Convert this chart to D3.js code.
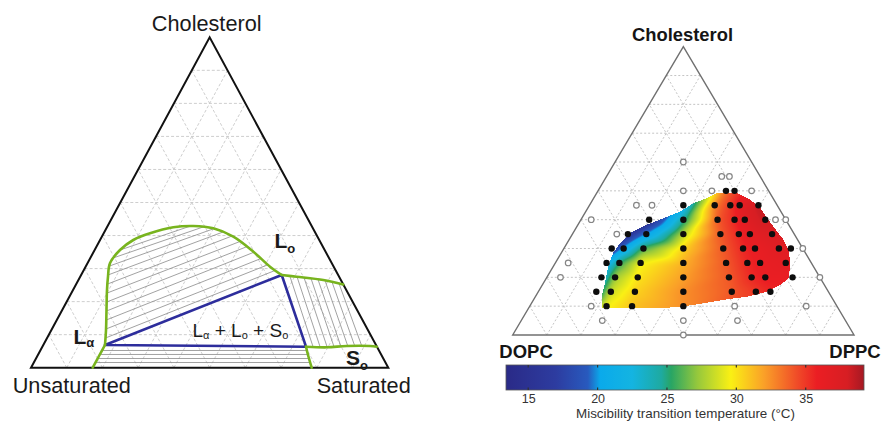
<!DOCTYPE html>
<html>
<head>
<meta charset="utf-8">
<script src="https://cdn.jsdelivr.net/npm/d3@7"></script>
<style>
  html, body { margin: 0; padding: 0; background: #fff; }
  svg { display: block; font-family: "Liberation Sans", Arial, sans-serif; }
</style>
</head>
<body>
<svg id="chart" width="883" height="427"></svg>
<script>
// ---------------- data ----------------
// Grid levels (mole fraction) shared by both ternary diagrams
const gridLevels = [0.1, 0.2, 0.3, 0.4, 0.5, 0.6, 0.7, 0.8, 0.9];

// Left diagram: generic phase diagram, points are [cholesterol, saturated lipid]
const laBranch = [[0, 0.1727], [0.0354, 0.1726], [0.0687, 0.1727]];
const coexistenceDome = [
  [0.0687, 0.1727], [0.1141, 0.1529], [0.1746, 0.1240], [0.2352, 0.0951],
  [0.2754, 0.0778], [0.3160, 0.0630], [0.3562, 0.0710], [0.3865, 0.0931],
  [0.4068, 0.1297], [0.4249, 0.1859], [0.4289, 0.2398], [0.4219, 0.2993],
  [0.3965, 0.3680], [0.3511, 0.4467], [0.3057, 0.5161], [0.2806, 0.5614]
];
const loSoUpper = [[0.2806, 0.5614], [0.2754, 0.6059], [0.2654, 0.6854], [0.2518, 0.7482]];
const soUpper = [[0.0636, 0.7379], [0.0617, 0.7967], [0.0657, 0.8507], [0.0657, 0.9159], [0.0636, 0.9364]];
const soLeft = [[0.0636, 0.7379], [0.0384, 0.7561], [0, 0.7856]];
const threePhase = [[0.0687, 0.1727], [0.2806, 0.5614], [0.0636, 0.7379]];

// Tie lines: [[chol, sat], [chol, sat]]
const tieLaLo = [
  [[0.0899, 0.1636], [0.2942, 0.5358]], [[0.1171, 0.1514], [0.3117, 0.5075]],
  [[0.1444, 0.1385], [0.3305, 0.4785]], [[0.1716, 0.1255], [0.3496, 0.4493]],
  [[0.1989, 0.1127], [0.3665, 0.4213]], [[0.2261, 0.1003], [0.3820, 0.3939]],
  [[0.2533, 0.0878], [0.3986, 0.3633]], [[0.2806, 0.0752], [0.4107, 0.3320]],
  [[0.3078, 0.0658], [0.4210, 0.3017]], [[0.3320, 0.0635], [0.4258, 0.2685]],
  [[0.3562, 0.0710], [0.4283, 0.2309]]
];
const tieLoSo = [
  [[0.2760, 0.5869], [0.0639, 0.7573]], [[0.2754, 0.6068], [0.0639, 0.7769]],
  [[0.2727, 0.6277], [0.0639, 0.7965]], [[0.2700, 0.6487], [0.0639, 0.8160]],
  [[0.2672, 0.6696], [0.0639, 0.8356]], [[0.2642, 0.6907], [0.0639, 0.8552]],
  [[0.2597, 0.7125], [0.0639, 0.8748]], [[0.2548, 0.7346], [0.0639, 0.8944]]
];
const tieLaSo = [
  [[0.0521, 0.1713], [0.0521, 0.7465]], [[0.0400, 0.1717], [0.0400, 0.7555]],
  [[0.0278, 0.1722], [0.0278, 0.7647]], [[0.0157, 0.1726], [0.0157, 0.7738]]
];

// Right diagram: DOPC / DPPC / cholesterol
// compositions as [cholesterol, DPPC/(DPPC+DOPC)]
const noTransition = [
  [0.60, 0.5], [0.55, 0.75], [0.55, 0.8], [0.50, 0.5], [0.50, 0.667], [0.50, 0.9],
  [0.45, 0.25], [0.45, 0.333], [0.40, 0.05], [0.40, 0.95], [0.40, 1.0], [0.35, 0.2],
  [0.30, 1.0], [0.25, 0.05], [0.20, 0.05], [0.20, 1.0], [0.10, 0.2], [0.10, 0.667],
  [0.10, 0.9], [0.05, 0.25], [0.05, 0.5], [0.05, 0.667], [0, 0.5]
];
// [cholesterol, DPPC/(DPPC+DOPC), miscibility transition temperature in °C]
const transitions = [
  [0.50, 0.75, 33.5], [0.50, 0.8, 34.5],
  [0.45, 0.5, 21], [0.45, 0.667, 33], [0.45, 0.75, 35], [0.45, 0.8, 36.5], [0.45, 0.9, 38.5],
  [0.40, 0.333, 15], [0.40, 0.5, 24.5], [0.40, 0.667, 34], [0.40, 0.75, 35.5], [0.40, 0.8, 37], [0.40, 0.9, 38.5],
  [0.35, 0.25, 15.5], [0.35, 0.333, 20], [0.35, 0.5, 28], [0.35, 0.667, 34], [0.35, 0.75, 35.5], [0.35, 0.8, 36.5], [0.35, 0.9, 37.5],
  [0.30, 0.2, 16.5], [0.30, 0.25, 20.5], [0.30, 0.333, 26], [0.30, 0.5, 30.5], [0.30, 0.667, 34], [0.30, 0.75, 35.5], [0.30, 0.8, 36], [0.30, 0.9, 37], [0.30, 0.95, 37],
  [0.25, 0.2, 21], [0.25, 0.25, 25.5], [0.25, 0.333, 29.5], [0.25, 0.5, 31.5], [0.25, 0.667, 34], [0.25, 0.75, 35.5], [0.25, 0.8, 36], [0.25, 0.9, 36.5],
  [0.20, 0.2, 22], [0.20, 0.25, 27.5], [0.20, 0.333, 30], [0.20, 0.5, 32], [0.20, 0.667, 34], [0.20, 0.75, 35.5], [0.20, 0.8, 36], [0.20, 0.9, 36],
  [0.15, 0.2, 23], [0.15, 0.25, 28.5], [0.15, 0.333, 30.5], [0.15, 0.5, 32.5], [0.15, 0.667, 34], [0.15, 0.75, 35], [0.15, 0.8, 35.5],
  [0.10, 0.25, 29.5], [0.10, 0.333, 31], [0.10, 0.5, 32.5]
];
// Outline of the two-liquid region, [cholesterol, DPPC]
const twoLiquidRegion = [
  [0.093, 0.214], [0.133, 0.194], [0.180, 0.180], [0.237, 0.161], [0.284, 0.152],
  [0.318, 0.155], [0.353, 0.167], [0.382, 0.201], [0.405, 0.239], [0.428, 0.276],
  [0.457, 0.301], [0.475, 0.332], [0.492, 0.352], [0.494, 0.376], [0.492, 0.411],
  [0.469, 0.462], [0.440, 0.506], [0.399, 0.550], [0.359, 0.595], [0.330, 0.629],
  [0.295, 0.661], [0.249, 0.689], [0.197, 0.710], [0.174, 0.698], [0.150, 0.670],
  [0.133, 0.620], [0.122, 0.557], [0.108, 0.495], [0.098, 0.441], [0.093, 0.385],
  [0.093, 0.297]
];

// Colour bar
const colorStops = [13.4, 17, 19.3, 20.2, 22.5, 24.6, 25.3, 27.2, 29.6, 32, 34.4, 35.8, 38, 39.2];
const colorValues = ["#2a2a87", "#2d3ca0", "#285abe", "#0aaaeb", "#14b4e1", "#1eaaa0", "#28a564",
                     "#96c83c", "#faf014", "#faa028", "#f04b28", "#eb1e23", "#d71e23", "#a51923"];
const colorTicks = [15, 20, 25, 30, 35];
const colorDomain = [13.4, 39.2];

// ---------------- drawing ----------------
const svg = d3.select("#chart");

function ternary(x0, x1, yBase, yApex) {
  const xs = d3.scaleLinear().domain([0, 1]).range([x0, x1]);
  const ys = d3.scaleLinear().domain([0, 1]).range([yBase, yApex]);
  return (c, s) => [xs(s + c / 2), ys(c)];
}
const TL = ternary(31, 388.3, 367.7, 37.3);
const TR = ternary(512.7, 854, 335, 46.7);

function gridSegments() {
  const segs = [];
  gridLevels.forEach(k => {
    segs.push([[k, 0], [k, 1 - k]]);
    segs.push([[0, k], [1 - k, k]]);
    segs.push([[0, 1 - k], [1 - k, 0]]);
  });
  return segs;
}
function drawSegments(g, T, segs, attrs) {
  const sel = g.selectAll(null).data(segs).join("line")
    .attr("x1", d => T(...d[0])[0]).attr("y1", d => T(...d[0])[1])
    .attr("x2", d => T(...d[1])[0]).attr("y2", d => T(...d[1])[1]);
  Object.entries(attrs).forEach(([k, v]) => sel.attr(k, v));
  return sel;
}

// ----- left diagram -----
const gL = svg.append("g");
drawSegments(gL, TL, gridSegments(), { stroke: "#c8c8c8", "stroke-width": 0.9, "stroke-dasharray": "3,2" });

const tieStyle = { stroke: "#8a8a8a", "stroke-width": 0.8 };
drawSegments(gL, TL, tieLaLo, tieStyle);
drawSegments(gL, TL, tieLoSo, tieStyle);
drawSegments(gL, TL, tieLaSo, tieStyle);

const lineL = d3.line().x(d => TL(...d)[0]).y(d => TL(...d)[1]);
const smoothL = d3.line().x(d => TL(...d)[0]).y(d => TL(...d)[1]).curve(d3.curveCatmullRom.alpha(0.5));

gL.append("path").attr("d", lineL([[0, 0], [0, 1], [1, 0]]) + "Z")
  .attr("fill", "none").attr("stroke", "#111").attr("stroke-width", 2).attr("stroke-linejoin", "miter");

gL.append("path").attr("d", lineL(threePhase) + "Z")
  .attr("fill", "none").attr("stroke", "#2d2d9c").attr("stroke-width", 2.6).attr("stroke-linejoin", "round");

const green = "#78b41e";
[laBranch, coexistenceDome, loSoUpper, soUpper, soLeft].forEach(seg => {
  gL.append("path").attr("d", smoothL(seg))
    .attr("fill", "none").attr("stroke", green).attr("stroke-width", 2.6).attr("stroke-linecap", "round");
});

const labelL = gL.append("g").attr("fill", "#1a1a1a");
labelL.append("text").attr("x", 206.7).attr("y", 30.5).attr("text-anchor", "middle")
  .attr("font-size", 21.7).text("Cholesterol");
labelL.append("text").attr("x", 12.7).attr("y", 393).attr("font-size", 21.7).text("Unsaturated");
labelL.append("text").attr("x", 410.7).attr("y", 393).attr("text-anchor", "end")
  .attr("font-size", 21.7).text("Saturated");

function phaseLabel(x, y, main, sub, size, subSize, dy, weight) {
  const t = labelL.append("text").attr("x", x).attr("y", y).attr("font-size", size).attr("font-weight", weight);
  t.append("tspan").text(main);
  t.append("tspan").attr("font-size", subSize).attr("dy", dy).text(sub);
  return t;
}
phaseLabel(274.5, 248.3, "L", "o", 21, 13, 5, "bold");
phaseLabel(73.5, 343.5, "L", "α", 21, 13, 3, "bold");
phaseLabel(346, 365, "S", "o", 21, 13, 5, "bold");

const tp = labelL.append("text").attr("x", 192.5).attr("y", 336.5).attr("font-size", 19);
tp.append("tspan").text("L");
tp.append("tspan").attr("font-size", 11).attr("dy", 2).text("α");
tp.append("tspan").attr("dy", -2).text(" + L");
tp.append("tspan").attr("font-size", 11).attr("dy", 2).text("o");
tp.append("tspan").attr("dy", -2).text(" + S");
tp.append("tspan").attr("font-size", 11).attr("dy", 2).text("o");

// ----- right diagram -----
const gR = svg.append("g");
drawSegments(gR, TR, gridSegments(), { stroke: "#bdbdbd", "stroke-width": 0.9, "stroke-dasharray": "2,2" });

const lineR = d3.line().x(d => TR(...d)[0]).y(d => TR(...d)[1]);
gR.append("path").attr("d", lineR([[0, 0], [0, 1], [1, 0]]) + "Z")
  .attr("fill", "none").attr("stroke", "#707070").attr("stroke-width", 1.4);

const color = d3.scaleLinear().domain(colorStops).range(colorValues)
  .interpolate(d3.interpolateRgb).clamp(true);

// Temperature surface: linear interpolation on the Delaunay triangulation of
// the measured compositions, carried out to the region edge and lightly smoothed.
const measured = transitions.map(([c, r, t]) => {
  const [x, y] = TR(c, r * (1 - c));
  return { x, y, t };
});
const region = twoLiquidRegion.map(d => TR(...d));
const bx0 = Math.floor(d3.min(region, d => d[0])) - 4;
const bx1 = Math.ceil(d3.max(region, d => d[0])) + 4;
const by0 = Math.floor(d3.min(region, d => d[1])) - 4;
const by1 = Math.ceil(d3.max(region, d => d[1])) + 4;
const cw = bx1 - bx0, ch = by1 - by0;
let field = new Float32Array(cw * ch).fill(NaN);

const del = d3.Delaunay.from(measured, d => d.x, d => d.y);
const tri = del.triangles;
for (let t = 0; t < tri.length; t += 3) {
  const A = measured[tri[t]], B = measured[tri[t + 1]], C = measured[tri[t + 2]];
  const den = (B.y - C.y) * (A.x - C.x) + (C.x - B.x) * (A.y - C.y);
  if (Math.abs(den) < 1e-9) continue;
  const i0 = Math.max(0, Math.floor(Math.min(A.x, B.x, C.x) - bx0));
  const i1 = Math.min(cw - 1, Math.ceil(Math.max(A.x, B.x, C.x) - bx0));
  const j0 = Math.max(0, Math.floor(Math.min(A.y, B.y, C.y) - by0));
  const j1 = Math.min(ch - 1, Math.ceil(Math.max(A.y, B.y, C.y) - by0));
  for (let j = j0; j <= j1; j++) {
    for (let i = i0; i <= i1; i++) {
      const px = bx0 + i + 0.5, py = by0 + j + 0.5;
      const l1 = ((B.y - C.y) * (px - C.x) + (C.x - B.x) * (py - C.y)) / den;
      const l2 = ((C.y - A.y) * (px - C.x) + (A.x - C.x) * (py - C.y)) / den;
      const l3 = 1 - l1 - l2;
      if (l1 < -1e-6 || l2 < -1e-6 || l3 < -1e-6) continue;
      field[j * cw + i] = l1 * A.t + l2 * B.t + l3 * C.t;
    }
  }
}
// carry values outward past the hull by neighbour averaging
for (let pass = 0; pass < 200; pass++) {
  const next = field.slice();
  let changed = 0, missing = 0;
  for (let j = 0; j < ch; j++) {
    for (let i = 0; i < cw; i++) {
      const k = j * cw + i;
      if (!isNaN(field[k])) continue;
      let s = 0, n = 0;
      for (let dj = -1; dj <= 1; dj++) for (let di = -1; di <= 1; di++) {
        const ii = i + di, jj = j + dj;
        if (ii < 0 || jj < 0 || ii >= cw || jj >= ch) continue;
        const v = field[jj * cw + ii];
        if (!isNaN(v)) { s += v; n++; }
      }
      if (n) { next[k] = s / n; changed++; } else missing++;
    }
  }
  field = next;
  if (!missing) break;
}
// light separable box smoothing
function boxBlur(src, r) {
  const tmp = new Float32Array(cw * ch), out = new Float32Array(cw * ch);
  for (let j = 0; j < ch; j++) for (let i = 0; i < cw; i++) {
    let s = 0, n = 0;
    for (let d = -r; d <= r; d++) { const ii = i + d; if (ii >= 0 && ii < cw) { s += src[j * cw + ii]; n++; } }
    tmp[j * cw + i] = s / n;
  }
  for (let j = 0; j < ch; j++) for (let i = 0; i < cw; i++) {
    let s = 0, n = 0;
    for (let d = -r; d <= r; d++) { const jj = j + d; if (jj >= 0 && jj < ch) { s += tmp[jj * cw + i]; n++; } }
    out[j * cw + i] = s / n;
  }
  return out;
}
field = boxBlur(boxBlur(field, 3), 3);

const canvas = document.createElement("canvas");
canvas.width = cw; canvas.height = ch;
const ctx = canvas.getContext("2d");
const img = ctx.createImageData(cw, ch);
for (let j = 0; j < ch; j++) {
  for (let i = 0; i < cw; i++) {
    const px = bx0 + i + 0.5, py = by0 + j + 0.5;
    if (!d3.polygonContains(region, [px, py])) continue;
    const c = d3.rgb(color(field[j * cw + i]));
    const k = (j * cw + i) * 4;
    img.data[k] = c.r; img.data[k + 1] = c.g; img.data[k + 2] = c.b; img.data[k + 3] = 255;
  }
}
ctx.putImageData(img, 0, 0);
gR.append("image").attr("x", bx0).attr("y", by0).attr("width", cw).attr("height", ch)
  .attr("href", canvas.toDataURL());

gR.selectAll(null).data(noTransition).join("circle")
  .attr("cx", d => TR(d[0], d[1] * (1 - d[0]))[0])
  .attr("cy", d => TR(d[0], d[1] * (1 - d[0]))[1])
  .attr("r", 2.8).attr("fill", "#fff").attr("stroke", "#858585").attr("stroke-width", 1.2);

gR.selectAll(null).data(transitions).join("circle")
  .attr("cx", d => TR(d[0], d[1] * (1 - d[0]))[0])
  .attr("cy", d => TR(d[0], d[1] * (1 - d[0]))[1])
  .attr("r", 3.2).attr("fill", "#0d0d0d");

const labelR = gR.append("g").attr("fill", "#151515").attr("font-weight", "bold");
labelR.append("text").attr("x", 682.5).attr("y", 40.5).attr("text-anchor", "middle")
  .attr("font-size", 17.5).attr("textLength", 101).attr("lengthAdjust", "spacingAndGlyphs").text("Cholesterol");
labelR.append("text").attr("x", 499.3).attr("y", 358).attr("font-size", 18.5).text("DOPC");
labelR.append("text").attr("x", 880.7).attr("y", 358).attr("text-anchor", "end").attr("font-size", 18.5).text("DPPC");

// colour bar
const cx = d3.scaleLinear().domain(colorDomain).range([506, 864]);
const grad = svg.append("defs").append("linearGradient").attr("id", "cbar")
  .attr("x1", "0%").attr("x2", "100%").attr("y1", "0%").attr("y2", "0%");
grad.selectAll("stop").data(colorStops).join("stop")
  .attr("offset", d => (cx(d) - cx.range()[0]) / (cx.range()[1] - cx.range()[0]))
  .attr("stop-color", (d, i) => colorValues[i]);

const gC = svg.append("g");
gC.append("rect").attr("x", cx(colorDomain[0])).attr("y", 365)
  .attr("width", cx(colorDomain[1]) - cx(colorDomain[0])).attr("height", 25)
  .attr("fill", "url(#cbar)").attr("stroke", "#555").attr("stroke-width", 0.8);

const axis = d3.axisBottom(cx).tickValues(colorTicks).tickSize(0).tickPadding(0).tickFormat(d3.format("d"));
const axG = gC.append("g").attr("transform", "translate(0,391)").call(axis);
axG.select(".domain").remove();
axG.selectAll("text").attr("font-size", 12.5).attr("fill", "#333")
  .attr("font-family", "'Liberation Sans', Arial, sans-serif").attr("dy", "0.95em");

gC.selectAll(null).data(colorTicks).join("line")
  .attr("x1", d => cx(d)).attr("x2", d => cx(d)).attr("y1", 365).attr("y2", 367.5)
  .attr("stroke", "#333").attr("stroke-width", 1.2);
gC.selectAll(null).data(colorTicks).join("line")
  .attr("x1", d => cx(d)).attr("x2", d => cx(d)).attr("y1", 387.5).attr("y2", 390)
  .attr("stroke", "#333").attr("stroke-width", 1.2);

gC.append("text").attr("x", 685.5).attr("y", 418).attr("text-anchor", "middle")
  .attr("font-size", 12.8).attr("fill", "#333").attr("textLength", 219).attr("lengthAdjust", "spacingAndGlyphs")
  .text("Miscibility transition temperature (°C)");
</script>
</body>
</html>
